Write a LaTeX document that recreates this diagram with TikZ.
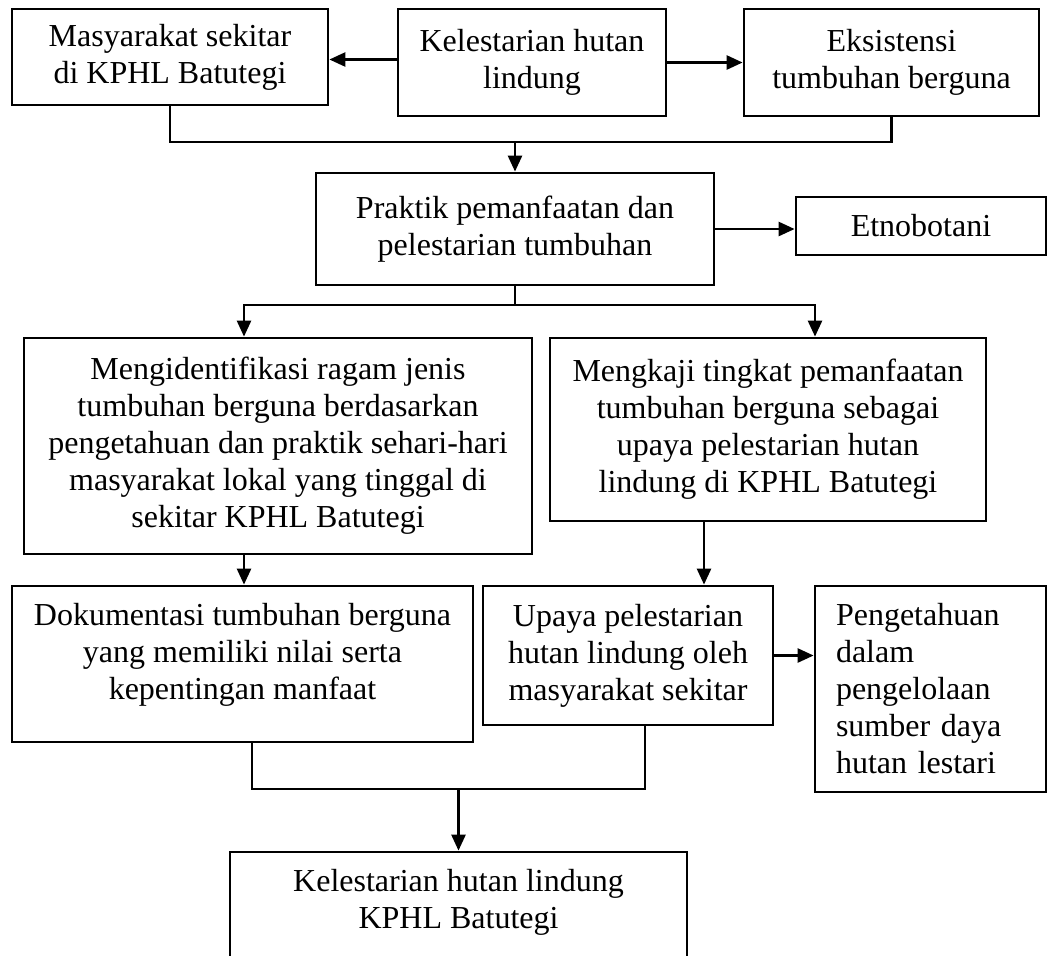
\documentclass[tikz,border=0pt]{standalone}
\usepackage{fontspec}
\setmainfont{Liberation Serif}
\usetikzlibrary{arrows.meta}

\tikzset{
	box/.style={draw, line width=1.4pt, inner sep=0pt, align=center, font=\fontsize{16pt}{18.5pt}\selectfont},
	txt/.style={inner sep=0pt, align=center, font=\fontsize{16pt}{18.5pt}\selectfont},
	arr/.style={line width=1.3pt, -{Triangle[length=8pt,width=7pt]}},
	con/.style={line width=1.3pt}
}

\begin{document}
\begin{tikzpicture}[x=0.5pt,y=-0.5pt]

\useasboundingbox (0,0) rectangle (1049,955);
\clip (0,0) rectangle (1049,955);

% top row
\node[box, minimum width=158pt, minimum height=48pt] (masy) at (170,57) {Masyarakat sekitar\\di KPHL Batutegi};
\node[box, minimum width=134pt, minimum height=53.5pt] (kel) at (532,62.5) {Kelestarian hutan\\lindung};
\node[box, minimum width=147.5pt, minimum height=53.5pt] (eks) at (891.5,62.5) {Eksistensi\\tumbuhan berguna};

\draw[arr] ([yshift=1.5pt]kel.west) -- ([yshift=1.5pt]kel.west -| masy.east);
\draw[arr] (kel.east) -- (eks.west);

% praktik
\node[box, minimum width=199pt, minimum height=56pt] (prak) at (515,229) {Praktik pemanfaatan dan\\pelestarian tumbuhan};
\node[box, minimum width=125pt, minimum height=29pt] (etno) at (921,226) {Etnobotani};

\coordinate (j1) at (515,142);
\draw[con] (masy.south) |- (j1) -| (eks.south);
\draw[arr] (j1) -- (prak.north);
\draw[arr] (prak.east) -- (prak.east -| etno.west);

% two aims
\node[box, minimum width=254pt, minimum height=108pt] (iden) at (278,446) {Mengidentifikasi ragam jenis\\tumbuhan berguna berdasarkan\\pengetahuan dan praktik sehari-hari\\masyarakat lokal yang tinggal di\\sekitar KPHL Batutegi};
\node[box, minimum width=218pt, minimum height=91.5pt] (kaji) at (768,429.5) {Mengkaji tingkat pemanfaatan\\tumbuhan berguna sebagai\\upaya pelestarian hutan\\lindung di KPHL Batutegi};

\coordinate (fl) at (244,305);
\coordinate (fr) at (815,305);
\draw[arr] (prak.south |- fl) -- (fl) -- (fl |- iden.north);
\draw[arr] (prak.south) -- (prak.south |- fr) -- (fr) -- (fr |- kaji.north);

% results
\node[box, minimum width=230.5pt, minimum height=78pt] (doku) at (242.5,664) {};
\node[txt] (dokut) at (242.5,655) {Dokumentasi tumbuhan berguna\\yang memiliki nilai serta\\kepentingan manfaat};
\node[box, minimum width=145pt, minimum height=69.5pt] (upay) at (628,655.5) {Upaya pelestarian\\hutan lindung oleh\\masyarakat sekitar};
\node[box, minimum width=115.5pt, minimum height=103pt, align=left, text width=94.5pt] (peng) at (930.5,689) {Pengetahuan\\dalam\\pengelolaan\\sumber daya\\hutan lestari};

\coordinate (gi) at (704,0);
\draw[arr] (fl |- iden.south) -- (fl |- doku.north);
\draw[arr] (gi |- kaji.south) -- (gi |- upay.north);
\draw[arr] (upay.east) -- (upay.east -| peng.west);

% final
\node[box, minimum width=228.5pt, minimum height=79pt] (akhir) at (458.5,931) {};
\node[txt] (akhirt) at (458.5,902) {Kelestarian hutan lindung\\KPHL Batutegi};

\coordinate (hl) at (252,789);
\coordinate (ir) at (645,789);
\draw[con] (hl |- doku.south) -- (hl) -- (ir) -- (ir |- upay.south);
\draw[arr] (akhir.north |- hl) -- (akhir.north);

\end{tikzpicture}
\end{document}
